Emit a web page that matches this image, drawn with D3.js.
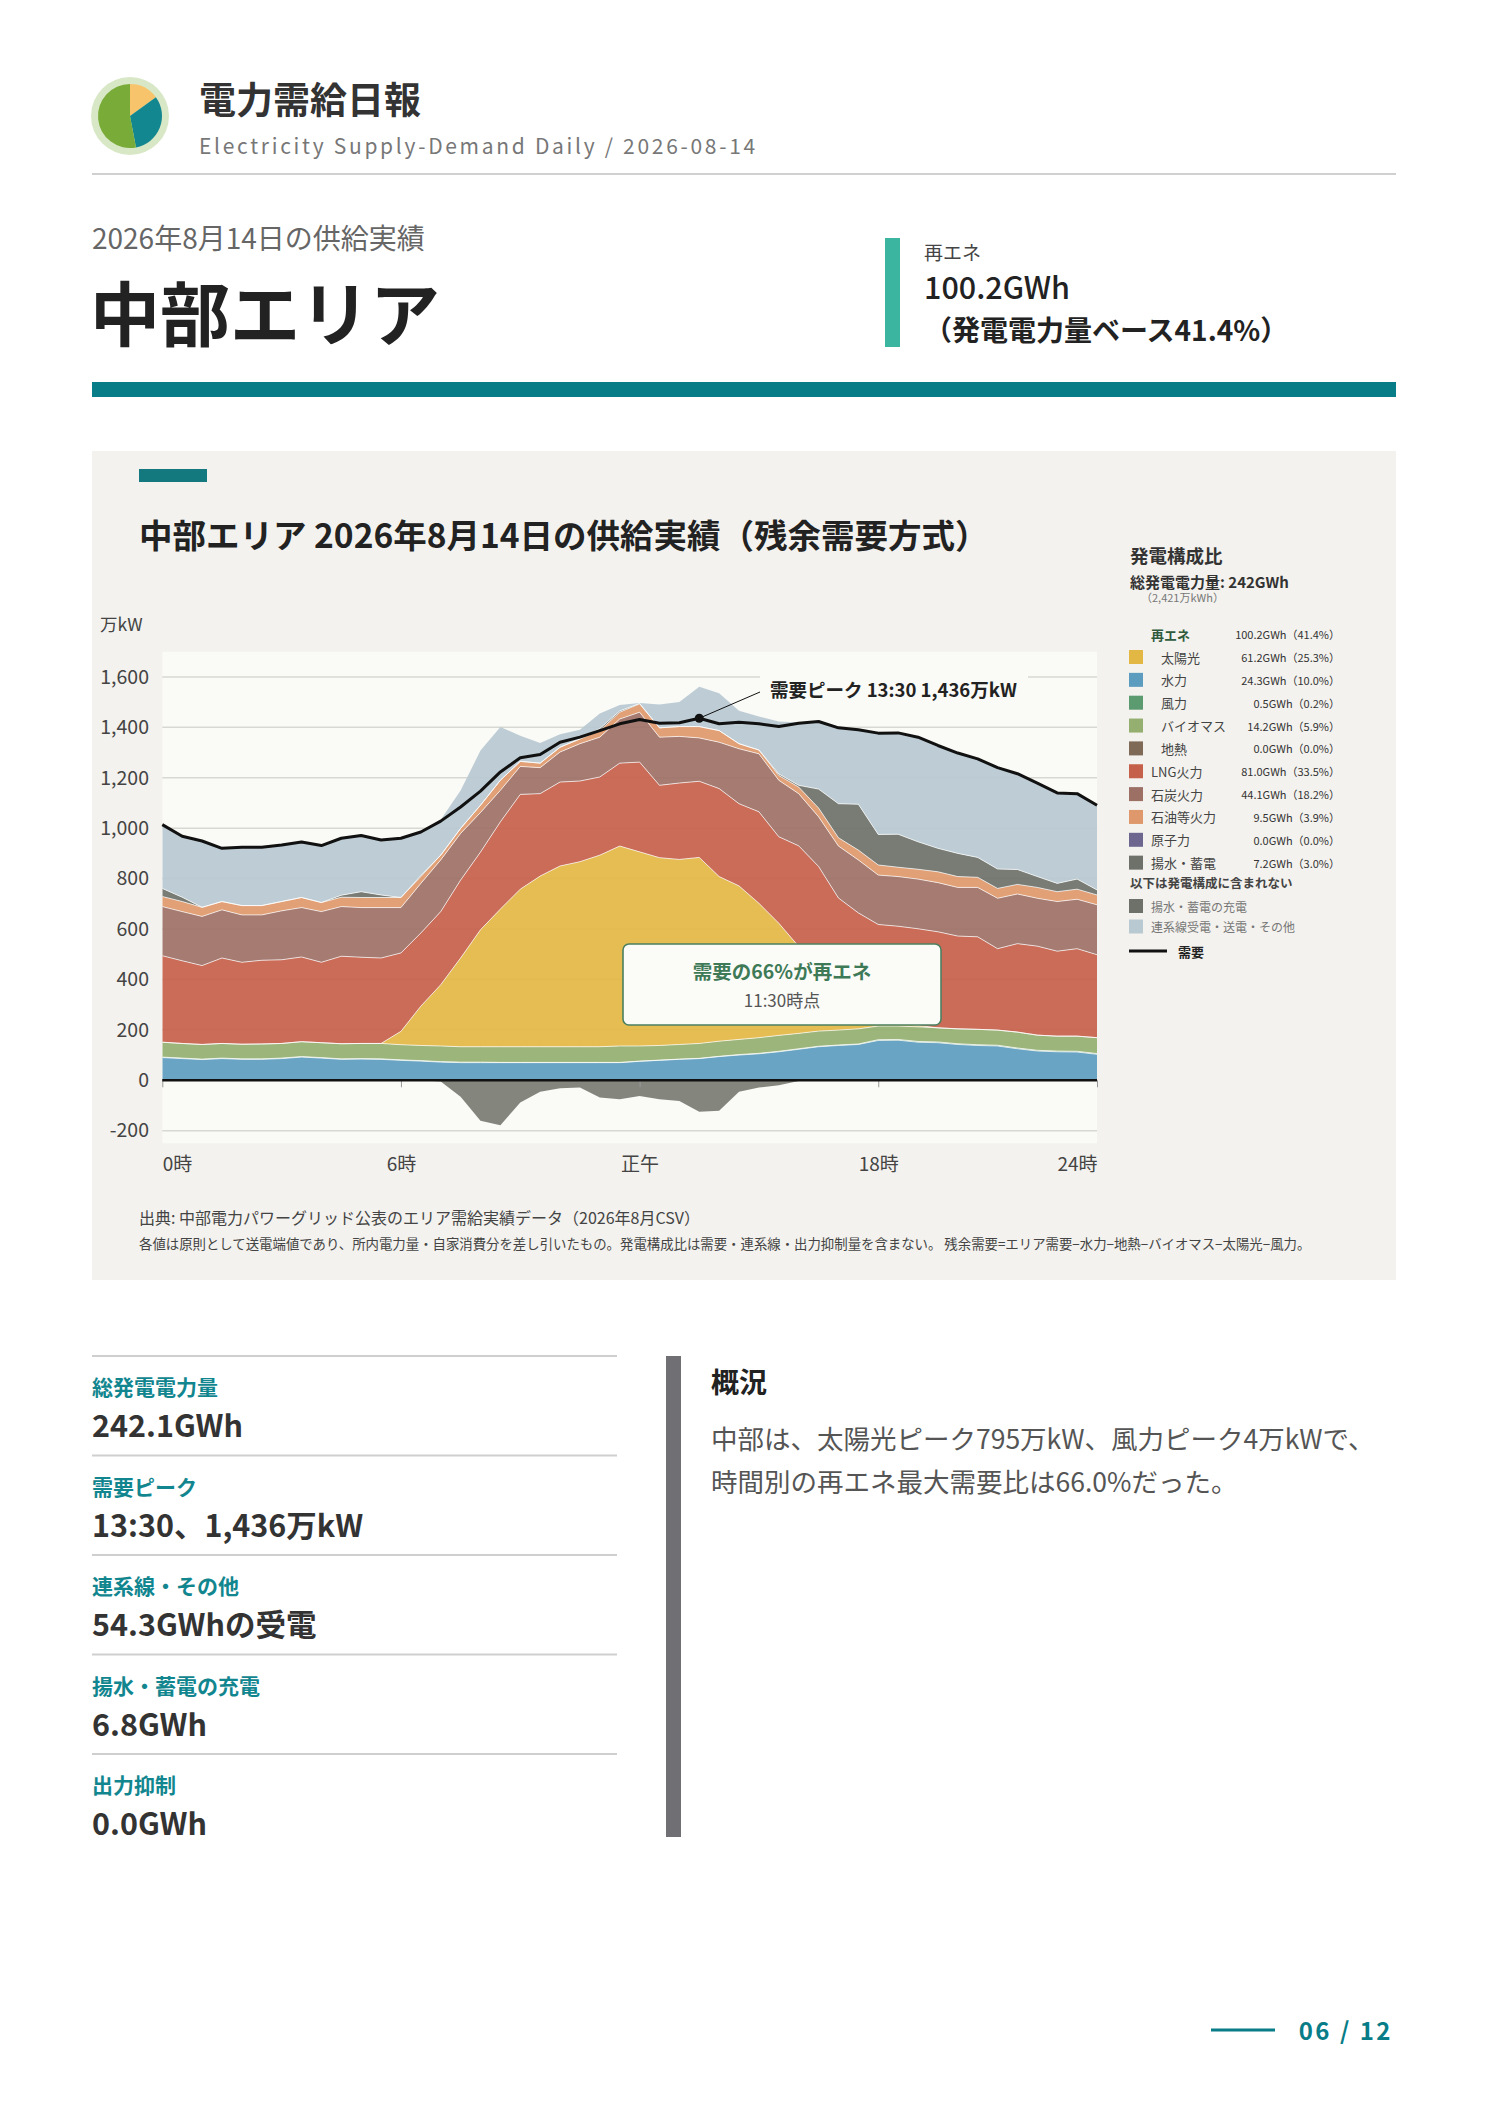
<!DOCTYPE html>
<html>
<head>
<meta charset="utf-8">
<script src="https://cdn.jsdelivr.net/npm/d3@7"></script>
<style>
  html, body { margin: 0; padding: 0; background: #fff; }
  svg text { font-family: "Noto Sans CJK JP", "Noto Sans", sans-serif; }
</style>
</head>
<body>
<svg id="page" width="1488" height="2105"></svg>
<script>
// 30分値 (万kW), 0:00〜23:30
const hydro = [90,86,82,86,83,83,86,92,88,83,84,83,79,76,72,70,70,70,70,70,70,70,70,70,75,79,83,86,94,100,105,113,123,133,138,142,158,159,151,149,142,138,136,125,116,113,112,103];
const wind = [2,2,2,2,2,2,2,2,2,2,2,2,2,2,2,2,2,1,1,1,1,1,1,1,1,1,1,1,1,2,2,2,2,2,2,2,3,3,3,3,3,3,3,3,3,3,3,3];
const biomass = [59,58,58,58,58,59,58,59,59,60,60,61,60,60,62,61,61,62,62,62,62,62,62,65,60,58,58,59,60,60,62,63,61,60,59,60,54,53,58,56,59,61,60,63,60,59,60,63];
const solar = [0,0,0,0,0,0,0,0,0,0,0,0,53,156,243,352,464,546,625,677,717,734,760,793,770,745,734,738,653,609,533,445,345,240,150,90,45,15,5,0,0,0,0,0,0,0,0,0];
const geothermal = [0,0,0,0,0,0,0,0,0,0,0,0,0,0,0,0,0,0,0,0,0,0,0,0,0,0,0,0,0,0,0,0,0,0,0,0,0,0,0,0,0,0,0,0,0,0,0,0];
const lng = [343,328,313,339,325,332,332,336,319,347,342,339,311,290,290,309,308,346,376,327,333,320,310,329,356,287,303,302,349,326,363,343,399,413,374,370,358,381,384,381,368,367,323,351,353,337,347,329];
const coal = [195,195,195,191,188,180,194,196,201,197,197,200,180,197,205,185,157,125,111,103,119,148,158,175,198,191,185,172,184,218,230,224,207,197,206,210,196,197,197,195,193,196,200,197,190,197,196,198];
const oil = [40,40,36,33,37,37,37,40,36,37,40,40,40,27,19,20,29,40,20,18,19,19,26,27,33,37,39,45,46,20,15,19,26,35,33,39,40,37,39,43,43,40,39,38,43,39,40,39];
const nuclear = [0,0,0,0,0,0,0,0,0,0,0,0,0,0,0,0,0,0,0,0,0,0,0,0,0,0,0,0,0,0,0,0,0,0,0,0,0,0,0,0,0,0,0,0,0,0,0,0];
const pumpGen = [32,17,0,0,0,0,0,0,0,8,23,10,0,4,0,0,0,0,0,0,0,0,8,5,2,0,0,0,0,0,0,6,7,75,135,182,121,131,109,93,92,79,77,59,43,33,40,20];
const interconnect = [253,242,263,211,231,231,224,220,226,226,223,218,235,173,140,150,217,211,102,80,52,36,60,24,2,93,97,158,148,131,133,208,249,268,301,295,402,402,415,408,398,391,402,380,371,359,339,336];
const charge = [0,0,0,0,0,0,0,0,0,0,0,0,0,0,-5,-65,-161,-178,-88,-46,-32,-29,-68,-75,-62,-75,-82,-125,-121,-46,-29,-20,-3,0,0,0,0,0,0,0,0,0,0,0,0,0,0,0];
const demand = [1014,968,949,920,924,924,933,945,931,960,971,953,960,985,1028,1084,1147,1223,1279,1292,1341,1361,1387,1414,1431,1416,1418,1436,1414,1420,1414,1403,1416,1423,1398,1390,1377,1378,1361,1328,1298,1275,1240,1216,1179,1140,1137,1091];

const xTickIdx = [0, 12, 24, 36, 47];
const xTickLabels = ["0時", "6時", "正午", "18時", "24時"];
const yTicks = [-200, 0, 200, 400, 600, 800, 1000, 1200, 1400, 1600];

// 発電構成比
const mixLabels = ["太陽光", "水力", "風力", "バイオマス", "地熱", "LNG火力", "石炭火力", "石油等火力", "原子力", "揚水・蓄電"];
const mixKeys = ["solar", "hydro", "wind", "biomass", "geo", "lng", "coal", "oil", "nuclear", "pumpGen"];
const mixGWh = [61.2, 24.3, 0.5, 14.2, 0.0, 81.0, 44.1, 9.5, 0.0, 7.2];
const mixShare = [25.3, 10.0, 0.2, 5.9, 0.0, 33.5, 18.2, 3.9, 0.0, 3.0];

const statLabels = ["総発電電力量", "需要ピーク", "連系線・その他", "揚水・蓄電の充電", "出力抑制"];
const statValues = ["242.1GWh", "13:30、1,436万kW", "54.3GWhの受電", "6.8GWh", "0.0GWh"];

const colors = {
  solar: "#e3b744", hydro: "#5c9cbf", wind: "#5c9a6f", biomass: "#94af6f", geo: "#7e6a57",
  lng: "#c5604a", coal: "#9d7066", oil: "#df986b", nuclear: "#6d6790", pumpGen: "#6e7169",
  charge: "#6e7169", interconnect: "#b9c9d1"
};

const svg = d3.select("#page");
const teal = "#087d87";

// ---- ヘッダー
const logo = svg.append("g").attr("transform", "translate(130,116)");
logo.append("circle").attr("r", 39).attr("fill", "#d8e8c6");
const pie = d3.pie().sort(null).value(d => d)([15, 32, 53]);
const arc = d3.arc().innerRadius(0).outerRadius(32);
logo.selectAll("path").data(pie).join("path")
  .attr("d", arc)
  .attr("fill", (d, i) => ["#f7c46c", "#13878f", "#79ab38"][i]);

svg.append("text").attr("x", 199).attr("y", 98).attr("dominant-baseline", "central")
  .attr("font-size", 37).attr("font-weight", 700).attr("fill", "#333").text("電力需給日報");
svg.append("text").attr("x", 199).attr("y", 145).attr("dominant-baseline", "central")
  .attr("font-size", 21).attr("letter-spacing", 2.7).attr("fill", "#777")
  .text("Electricity Supply-Demand Daily / 2026-08-14");
svg.append("line").attr("x1", 92).attr("x2", 1396).attr("y1", 174).attr("y2", 174)
  .attr("stroke", "#d0d0d0").attr("stroke-width", 2);

svg.append("text").attr("x", 92).attr("y", 237).attr("dominant-baseline", "central")
  .attr("font-size", 28).attr("fill", "#666").text("2026年8月14日の供給実績");
svg.append("text").attr("x", 90).attr("y", 310).attr("dominant-baseline", "central")
  .attr("font-size", 70).attr("font-weight", 700).attr("fill", "#222").text("中部エリア");

svg.append("rect").attr("x", 885).attr("y", 238).attr("width", 15).attr("height", 109).attr("fill", "#3bb4a0");
svg.append("text").attr("x", 924).attr("y", 251).attr("dominant-baseline", "central")
  .attr("font-size", 19).attr("fill", "#444").text("再エネ");
svg.append("text").attr("x", 924).attr("y", 286).attr("dominant-baseline", "central")
  .attr("font-size", 30.5).attr("font-weight", 500).attr("fill", "#222").text("100.2GWh");
svg.append("text").attr("x", 924).attr("y", 329).attr("dominant-baseline", "central")
  .attr("font-size", 28).attr("font-weight", 700).attr("fill", "#222").text("（発電電力量ベース41.4%）");

svg.append("rect").attr("x", 92).attr("y", 382).attr("width", 1304).attr("height", 15).attr("fill", teal);

// ---- チャートパネル
svg.append("rect").attr("x", 92).attr("y", 451).attr("width", 1304).attr("height", 829).attr("fill", "#f3f2ee");
svg.append("rect").attr("x", 139).attr("y", 469).attr("width", 68).attr("height", 13).attr("fill", "#13797f");
svg.append("text").attr("x", 139).attr("y", 533).attr("dominant-baseline", "central")
  .attr("font-size", 33.5).attr("font-weight", 700).attr("fill", "#222")
  .text("中部エリア 2026年8月14日の供給実績（残余需要方式）");

const x = d3.scaleLinear().domain([0, 47]).range([162.3, 1097]);
const y = d3.scaleLinear().domain([-250, 1700]).range([1143.3, 651.7]);

svg.append("rect").attr("x", 162.3).attr("y", 651.7).attr("width", 1097 - 162.3).attr("height", 1143.3 - 651.7)
  .attr("fill", "#fafaf6");
svg.append("clipPath").attr("id", "plotClip").append("rect")
  .attr("x", 162.3).attr("y", 651.7).attr("width", 1097 - 162.3).attr("height", 1143.3 - 651.7);

svg.append("text").attr("x", 100).attr("y", 623).attr("dominant-baseline", "central")
  .attr("font-size", 17.5).attr("fill", "#444").text("万kW");

// グリッド
svg.append("g").selectAll("line").data(yTicks.filter(d => d !== 0)).join("line")
  .attr("x1", 162.3).attr("x2", 1097).attr("y1", d => y(d)).attr("y2", d => y(d))
  .attr("stroke", "#d8d8d3").attr("stroke-width", 1.5);

// 積み上げ
const keys = ["hydro", "wind", "biomass", "solar", "geo", "lng", "coal", "oil", "nuclear", "pumpGen", "interconnect"];
const seriesByKey = { hydro, wind, biomass, solar, geo: geothermal, lng, coal, oil, nuclear, pumpGen, interconnect };
const rows = demand.map((_, i) => {
  const r = { i };
  keys.forEach(k => r[k] = seriesByKey[k][i]);
  return r;
});
const stacked = d3.stack().keys(keys)(rows);
const area = d3.area().x(d => x(d.data.i)).y0(d => y(d[0])).y1(d => y(d[1]));
const topLine = d3.line().x(d => x(d.data.i)).y(d => y(d[1]));

const plot = svg.append("g").attr("clip-path", "url(#plotClip)");
plot.selectAll("path.layer").data(stacked).join("path")
  .attr("class", "layer")
  .attr("d", area)
  .attr("fill", d => colors[d.key])
  .attr("fill-opacity", 0.92);
plot.selectAll("path.sep").data(stacked.filter(s => s.key !== "interconnect" && d3.max(s, d => d[1] - d[0]) > 0)).join("path")
  .attr("class", "sep")
  .attr("d", topLine)
  .attr("fill", "none")
  .attr("stroke", "rgba(255,255,255,0.7)")
  .attr("stroke-width", 1);

plot.append("path").datum(charge)
  .attr("d", d3.area().x((d, i) => x(i)).y0(y(0)).y1(d => y(d)))
  .attr("fill", colors.charge).attr("fill-opacity", 0.85);

// 軸
svg.append("g").attr("transform", `translate(0,${y(0)})`)
  .call(d3.axisBottom(x).tickValues(xTickIdx).tickSize(7).tickFormat(""))
  .call(g => g.select(".domain").remove())
  .call(g => g.selectAll(".tick line").attr("stroke", "#999"));
svg.append("line").attr("x1", 162.3).attr("x2", 1097).attr("y1", y(0)).attr("y2", y(0))
  .attr("stroke", "#111").attr("stroke-width", 2.5);

svg.append("g").attr("transform", "translate(0,1157)")
  .call(d3.axisBottom(x).tickValues(xTickIdx).tickSize(0).tickPadding(0)
    .tickFormat((d, i) => xTickLabels[i]))
  .call(g => g.select(".domain").remove())
  .call(g => g.selectAll("text")
    .attr("font-size", 19).attr("fill", "#444")
    .attr("font-family", "Noto Sans CJK JP")
    .attr("text-anchor", (d, i) => i === 0 ? "start" : i === xTickIdx.length - 1 ? "end" : "middle"));

svg.append("g").attr("transform", "translate(149,0)")
  .call(d3.axisLeft(y).tickValues(yTicks).tickSize(0).tickPadding(0)
    .tickFormat(d => d3.format(",")(d).replace("−", "-")))
  .call(g => g.select(".domain").remove())
  .call(g => g.selectAll("text").attr("font-size", 19.5).attr("fill", "#444")
    .attr("font-family", "Noto Sans CJK JP"));

// 需要
svg.append("path").datum(demand)
  .attr("d", d3.line().x((d, i) => x(i)).y(d => y(d)))
  .attr("fill", "none").attr("stroke", "#111").attr("stroke-width", 3).attr("stroke-linejoin", "round");

// 需要ピーク注記
const peakIdx = d3.maxIndex(demand);
svg.append("rect").attr("x", 760).attr("y", 676).attr("width", 268).attr("height", 26).attr("fill", "#fafaf6");
svg.append("line").attr("x1", x(peakIdx)).attr("y1", y(demand[peakIdx])).attr("x2", 760).attr("y2", 692)
  .attr("stroke", "#111").attr("stroke-width", 1);
svg.append("circle").attr("cx", x(peakIdx)).attr("cy", y(demand[peakIdx])).attr("r", 4.5).attr("fill", "#111");
svg.append("text").attr("x", 770).attr("y", 689).attr("dominant-baseline", "central")
  .attr("font-size", 18.5).attr("font-weight", 700).attr("fill", "#222")
  .text(`需要ピーク 13:30 ${d3.format(",")(demand[peakIdx])}万kW`);

// 再エネ比率ボックス
svg.append("rect").attr("x", 623).attr("y", 944).attr("width", 318).attr("height", 81).attr("rx", 6)
  .attr("fill", "#fbfbf7").attr("stroke", "#4b8060").attr("stroke-width", 1.6);
svg.append("text").attr("x", 782).attr("y", 970).attr("text-anchor", "middle").attr("dominant-baseline", "central")
  .attr("font-size", 19.5).attr("font-weight", 700).attr("fill", "#3e7a57").text("需要の66%が再エネ");
svg.append("text").attr("x", 782).attr("y", 999).attr("text-anchor", "middle").attr("dominant-baseline", "central")
  .attr("font-size", 17).attr("fill", "#555").text("11:30時点");

// 凡例
const lg = svg.append("g");
lg.append("text").attr("x", 1130).attr("y", 555).attr("dominant-baseline", "central")
  .attr("font-size", 18.5).attr("font-weight", 700).attr("fill", "#333").text("発電構成比");
lg.append("text").attr("x", 1130).attr("y", 581).attr("dominant-baseline", "central")
  .attr("font-size", 15).attr("font-weight", 700).attr("fill", "#333").text("総発電電力量: 242GWh");
lg.append("text").attr("x", 1141).attr("y", 597).attr("dominant-baseline", "central")
  .attr("font-size", 11).attr("fill", "#777").text("（2,421万kWh）");

lg.append("text").attr("x", 1151).attr("y", 634).attr("dominant-baseline", "central")
  .attr("font-size", 13).attr("font-weight", 700).attr("fill", "#2f5a3c").text("再エネ");
lg.append("text").attr("x", 1340).attr("y", 634).attr("text-anchor", "end").attr("dominant-baseline", "central")
  .attr("font-size", 11).attr("fill", "#333").text("100.2GWh（41.4%）");

const rowY = i => 657 + i * 22.85;
const mixRows = lg.selectAll("g.row").data(mixLabels).join("g").attr("class", "row")
  .attr("transform", (d, i) => `translate(0,${rowY(i)})`);
mixRows.append("rect").attr("x", 1129).attr("y", -7).attr("width", 14).attr("height", 14)
  .attr("fill", (d, i) => colors[mixKeys[i]]);
mixRows.append("text").attr("x", (d, i) => i < 5 ? 1161 : 1151).attr("dominant-baseline", "central")
  .attr("font-size", 13).attr("fill", "#444").text(d => d);
mixRows.append("text").attr("x", 1340).attr("text-anchor", "end").attr("dominant-baseline", "central")
  .attr("font-size", 11).attr("fill", "#333")
  .text((d, i) => `${mixGWh[i].toFixed(1)}GWh（${mixShare[i].toFixed(1)}%）`);

lg.append("text").attr("x", 1130).attr("y", 882).attr("dominant-baseline", "central")
  .attr("font-size", 12.5).attr("font-weight", 700).attr("fill", "#444").text("以下は発電構成に含まれない");
const extraLabels = ["揚水・蓄電の充電", "連系線受電・送電・その他"];
const extraColors = [colors.charge, colors.interconnect];
extraLabels.forEach((t, i) => {
  const yy = 906 + i * 20.5;
  lg.append("rect").attr("x", 1129).attr("y", yy - 7).attr("width", 14).attr("height", 14).attr("fill", extraColors[i]);
  lg.append("text").attr("x", 1151).attr("y", yy).attr("dominant-baseline", "central")
    .attr("font-size", 12).attr("fill", "#777").text(t);
});
lg.append("line").attr("x1", 1129).attr("x2", 1167).attr("y1", 951).attr("y2", 951)
  .attr("stroke", "#111").attr("stroke-width", 3);
lg.append("text").attr("x", 1178).attr("y", 951).attr("dominant-baseline", "central")
  .attr("font-size", 13).attr("font-weight", 700).attr("fill", "#222").text("需要");

// 出典
svg.append("text").attr("x", 139).attr("y", 1217).attr("dominant-baseline", "central")
  .attr("font-size", 16).attr("fill", "#444")
  .text("出典: 中部電力パワーグリッド公表のエリア需給実績データ（2026年8月CSV）");
svg.append("text").attr("x", 139).attr("y", 1243).attr("dominant-baseline", "central")
  .attr("font-size", 13.4).attr("fill", "#444")
  .text("各値は原則として送電端値であり、所内電力量・自家消費分を差し引いたもの。発電構成比は需要・連系線・出力抑制量を含まない。 残余需要=エリア需要−水力−地熱−バイオマス−太陽光−風力。");

// ---- 指標
const stats = svg.append("g");
statLabels.forEach((t, i) => {
  const y0 = 1356 + i * 99.5;
  stats.append("line").attr("x1", 92).attr("x2", 617).attr("y1", y0).attr("y2", y0)
    .attr("stroke", "#cfcfcf").attr("stroke-width", 2);
  stats.append("text").attr("x", 92).attr("y", y0 + 30).attr("dominant-baseline", "central")
    .attr("font-size", 21).attr("font-weight", 700).attr("fill", "#12868f").text(t);
  stats.append("text").attr("x", 92).attr("y", y0 + 68).attr("dominant-baseline", "central")
    .attr("font-size", 30.5).attr("font-weight", 700).attr("fill", "#333").text(statValues[i]);
});
stats.append("line").attr("x1", 92).attr("x2", 617).attr("y1", 1356 + 4 * 99.5).attr("y2", 1356 + 4 * 99.5)
  .attr("stroke", "#cfcfcf").attr("stroke-width", 2);

// ---- 概況
svg.append("rect").attr("x", 666).attr("y", 1356).attr("width", 15).attr("height", 481).attr("fill", "#6f6f74");
svg.append("text").attr("x", 711).attr("y", 1381).attr("dominant-baseline", "central")
  .attr("font-size", 28).attr("font-weight", 700).attr("fill", "#222").text("概況");
const summaryLines = ["中部は、太陽光ピーク795万kW、風力ピーク4万kWで、", "時間別の再エネ最大需要比は66.0%だった。"];
summaryLines.forEach((t, i) => {
  svg.append("text").attr("x", 711).attr("y", 1437 + i * 43).attr("dominant-baseline", "central")
    .attr("font-size", 26.5).attr("fill", "#555").text(t);
});

// ---- ページ番号
svg.append("line").attr("x1", 1211).attr("x2", 1275).attr("y1", 2030).attr("y2", 2030)
  .attr("stroke", teal).attr("stroke-width", 3);
svg.append("text").attr("x", 1393).attr("y", 2029).attr("text-anchor", "end").attr("dominant-baseline", "central")
  .attr("font-size", 24).attr("font-weight", 700).attr("letter-spacing", 2.5).attr("fill", teal).text("06 / 12");
</script>
</body>
</html>
